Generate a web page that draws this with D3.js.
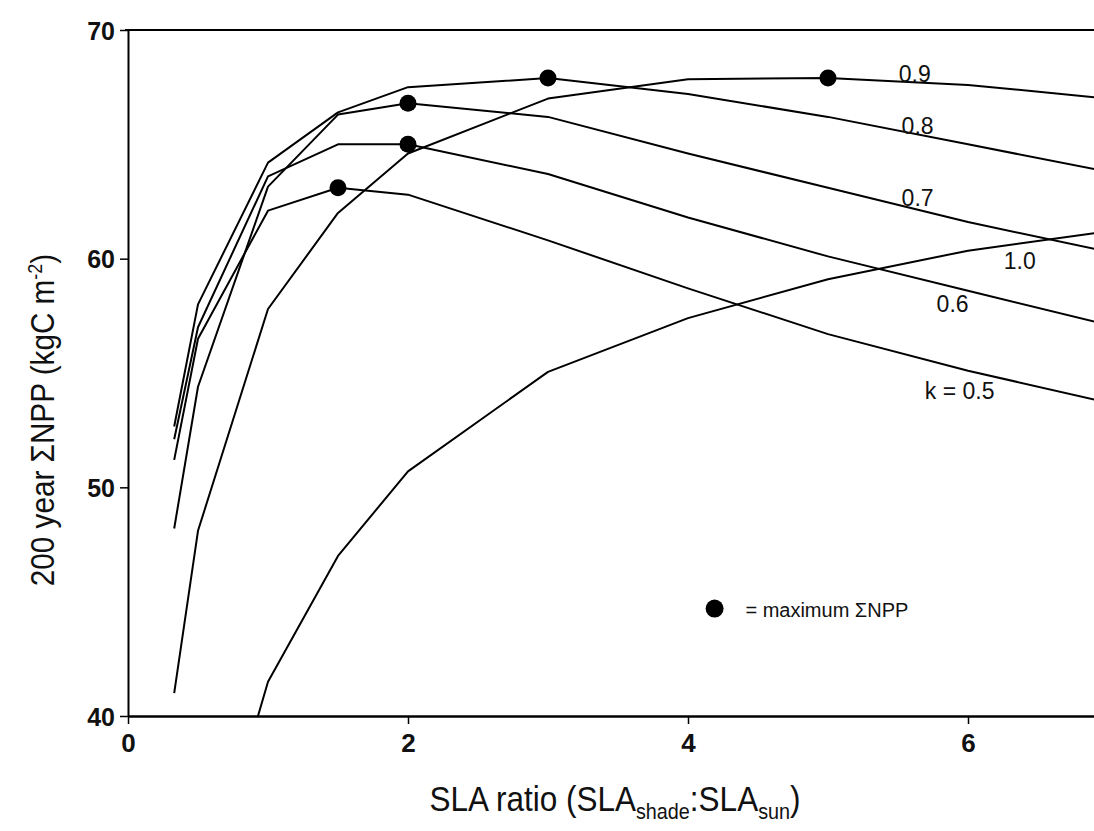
<!DOCTYPE html>
<html>
<head>
<meta charset="utf-8">
<script src="https://cdn.jsdelivr.net/npm/d3@7"></script>
<style>
  body { margin: 0; background: #fff; }
  svg { display: block; }
</style>
</head>
<body>
<div id="chart"></div>
<script>
// SLA ratio values where each curve was computed
var slaRatio = [0.33, 0.5, 1, 1.5, 2, 3, 4, 5, 6, 7];

// 200 year sum of NPP for each k
var npp05 = [51.2, 56.5, 62.1, 63.1, 62.8, 60.8, 58.7, 56.7, 55.1, 53.7];
var npp06 = [52.1, 57.0, 63.6, 65.0, 65.0, 63.7, 61.8, 60.1, 58.6, 57.1];
var npp07 = [48.2, 54.4, 63.15, 66.3, 66.8, 66.2, 64.6, 63.1, 61.6, 60.3];
var npp08 = [52.66, 58.0, 64.2, 66.4, 67.5, 67.9, 67.2, 66.2, 65.0, 63.8];
var npp09 = [41.0, 48.1, 57.8, 62.0, 64.6, 67.0, 67.85, 67.9, 67.6, 67.0];
var npp10 = [null, 31.0, 41.5, 47.0, 50.7, 55.05, 57.4, 59.1, 60.35, 61.2];

var kLabels = ["k = 0.5", "0.6", "0.7", "0.8", "0.9", "1.0"];
// SLA ratio giving the maximum for each k (1.0 has none in range)
var maxAt = [1.5, 2, 2, 3, 5, null];

var xTicks = [0, 2, 4, 6];
var yTicks = [40, 50, 60, 70];

var series = [npp05, npp06, npp07, npp08, npp09, npp10];

// where each curve label sits (data units)
var labelPos = [[5.94, 53.86], [5.89, 57.67], [5.64, 62.3], [5.64, 65.45], [5.62, 67.72], [6.37, 59.55]];

var W = 1094, H = 831;
var font = "'Liberation Sans', Arial, sans-serif";

var svg = d3.select("#chart").append("svg")
    .attr("width", W)
    .attr("height", H);

var x = d3.scaleLinear().domain([0, 7]).range([128, 1108]);
var y = d3.scaleLinear().domain([40, 70]).range([716, 30]);

// clip for the curves
svg.append("clipPath").attr("id", "plot")
  .append("rect")
    .attr("x", x(0)).attr("y", y(70))
    .attr("width", W - x(0)).attr("height", y(40) - y(70));

// frame top line
svg.append("line")
    .attr("x1", x(0) - 3).attr("x2", W)
    .attr("y1", y(70)).attr("y2", y(70))
    .attr("stroke", "#000").attr("stroke-width", 2);

// y axis
var yAxis = svg.append("g")
    .attr("transform", "translate(" + x(0) + ",0)")
    .call(d3.axisLeft(y).tickValues(yTicks).tickFormat(d3.format("d"))
      .tickSize(8).tickPadding(5).tickSizeOuter(0));
yAxis.attr("font-size", 25).attr("font-family", font).attr("font-weight", "bold");
yAxis.select(".domain").attr("stroke-width", 2);
yAxis.selectAll(".tick line").attr("stroke-width", 1.5);
yAxis.selectAll("text").attr("fill", "#111").attr("dy", "0.36em");

// x axis
var xAxis = svg.append("g")
    .attr("transform", "translate(0," + y(40) + ")")
    .call(d3.axisBottom(x).tickValues(xTicks).tickFormat(d3.format("d"))
      .tickSize(8).tickPadding(10).tickSizeOuter(0));
xAxis.attr("font-size", 26).attr("font-family", font).attr("font-weight", "bold");
xAxis.select(".domain").attr("stroke-width", 2.5);
xAxis.selectAll(".tick line").attr("stroke-width", 1.5);
xAxis.selectAll("text").attr("fill", "#111");

// curves
var line = d3.line()
    .defined(function(d) { return d[1] != null; })
    .x(function(d) { return x(d[0]); })
    .y(function(d) { return y(d[1]); });

var curves = svg.append("g").attr("clip-path", "url(#plot)");
series.forEach(function(vals) {
  var pts = slaRatio.map(function(s, j) { return [s, vals[j]]; });
  curves.append("path")
      .datum(pts)
      .attr("d", line)
      .attr("fill", "none")
      .attr("stroke", "#000")
      .attr("stroke-width", 2)
      .attr("stroke-linejoin", "round");
});

// maximum markers
series.forEach(function(vals, i) {
  if (maxAt[i] == null) return;
  var j = slaRatio.indexOf(maxAt[i]);
  svg.append("circle")
      .attr("cx", x(maxAt[i]))
      .attr("cy", y(vals[j]))
      .attr("r", 8.5)
      .attr("fill", "#000");
});

// curve labels
kLabels.forEach(function(t, i) {
  svg.append("text")
      .attr("x", x(labelPos[i][0]))
      .attr("y", y(labelPos[i][1]))
      .attr("text-anchor", "middle")
      .attr("font-family", font)
      .attr("font-size", 23)
      .attr("fill", "#111")
      .text(t);
});

// legend
svg.append("circle")
    .attr("cx", x(4.19)).attr("cy", y(44.7))
    .attr("r", 9).attr("fill", "#000");
svg.append("text")
    .attr("x", x(4.41)).attr("y", y(44.35))
    .attr("font-family", font).attr("font-size", 20)
    .attr("fill", "#111")
    .text("= maximum \u03A3NPP");

// x axis title (condensed look)
var xt = svg.append("text")
    .attr("transform", "translate(615,811) scale(0.9,1)")
    .attr("text-anchor", "middle")
    .attr("font-family", font).attr("font-size", 35)
    .attr("fill", "#111");
xt.append("tspan").text("SLA ratio (SLA");
xt.append("tspan").attr("font-size", 22).attr("dy", 8).text("shade");
xt.append("tspan").attr("dy", -8).text(":SLA");
xt.append("tspan").attr("font-size", 22).attr("dy", 8).text("sun");
xt.append("tspan").attr("dy", -8).text(")");

// y axis title
var yt = svg.append("text")
    .attr("transform", "translate(54,420) rotate(-90) scale(0.9,1)")
    .attr("text-anchor", "middle")
    .attr("font-family", font).attr("font-size", 33)
    .attr("fill", "#111");
yt.append("tspan").text("200 year \u03A3NPP (kgC m");
yt.append("tspan").attr("font-size", 20).attr("dy", -12).text("-2");
yt.append("tspan").attr("dy", 12).text(")");
</script>
</body>
</html>
